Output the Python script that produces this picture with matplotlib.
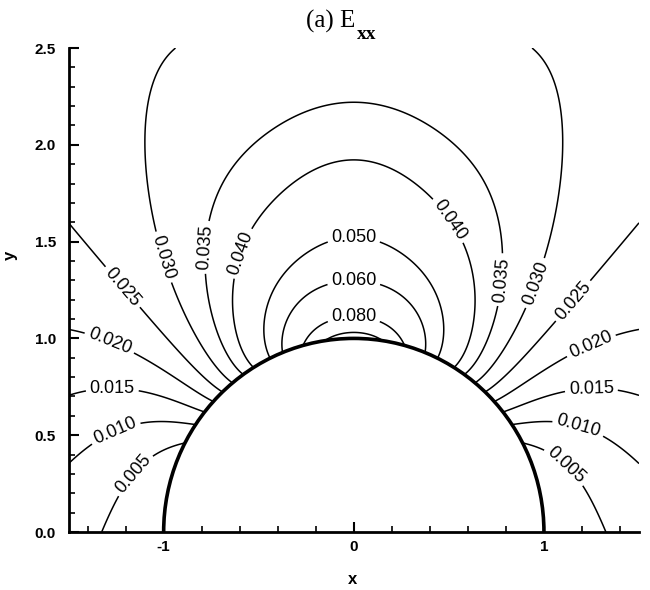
import numpy as np
import matplotlib
matplotlib.use('Agg')
import matplotlib.pyplot as plt
from matplotlib.patches import Arc
from matplotlib.ticker import MultipleLocator

plt.rcParams['font.family'] = ['Liberation Sans', 'DejaVu Sans']
plt.rcParams['axes.unicode_minus'] = False

# contour levels of E_xx
levels = [0.005, 0.010, 0.015, 0.020, 0.025, 0.030, 0.035, 0.040,
          0.050, 0.060, 0.080, 0.100]
unlabeled = [0.100]

# points (right half, field is symmetric in x)
c005 = [(0.900, 0.449), (1.031, 0.406), (1.154, 0.303), (1.276, 0.182), (1.305, 0.0)]
c010 = [(0.839, 0.561), (1.031, 0.570), (1.25, 0.51), (1.505, 0.35)]
c015 = [(0.795, 0.630), (1.014, 0.699), (1.27, 0.73), (1.505, 0.708)]
c020 = [(0.751, 0.682), (1.014, 0.854), (1.28, 0.99), (1.505, 1.04)]
c025 = [(0.708, 0.725), (1.12, 1.198), (1.21, 1.27), (1.505, 1.555)]
c030 = [(0.647, 0.785), (0.926, 1.198), (0.95, 1.28), (1.0, 1.42), (1.048, 1.612),
        (1.066, 1.939), (1.03, 2.26), (0.92, 2.5)]
c035 = [(0.603, 0.820), (0.769, 1.198), (0.79, 1.30), (0.78, 1.46), (0.74, 1.68),
        (0.635, 1.89), (0.42, 2.111), (0.0, 2.231)]
c040 = [(0.533, 0.863), (0.655, 1.198), (0.64, 1.32), (0.594, 1.44), (0.525, 1.60),
        (0.315, 1.784), (0.0, 1.87)]
c050 = [(0.449, 0.900), (0.43, 1.17), (0.33, 1.35), (0.15, 1.48), (0.0, 1.517)]
c060 = [(0.365, 0.935), (0.30, 1.16), (0.21, 1.276), (0.0, 1.327)]
c080 = [(0.276, 0.961), (0.2, 1.07), (0.0, 1.095)]
c100 = [(0.12, 0.995), (0.0, 1.03)]
traced = [c005, c010, c015, c020, c025, c030, c035, c040, c050, c060, c080, c100]

# values judged between the drawn contours
between_pts = [(0.0, 1.0), (0.0, 1.2), (0.0, 1.42), (0.0, 1.7), (0.0, 2.05),
               (0.0, 2.5), (0.85, 2.2), (1.3, 2.5), (1.5, 2.5), (1.5, 2.0),
               (1.5, 0.0), (1.15, 0.0), (1.0, 0.0), (0.985, 0.174), (0.951, 0.309)]
between_val = [0.115, 0.068, 0.055, 0.044, 0.037,
               0.0325, 0.032, 0.0285, 0.0275, 0.027,
               0.0068, 0.003, 0.0, 0.0008, 0.002]

# where the labels sit
labels_left = [(-1.16, 0.30), (-1.25, 0.51), (-1.27, 0.73), (-1.28, 0.99),
               (-1.21, 1.27), (-1.00, 1.42), (-0.77, 1.47), (-0.59, 1.44)]
labels_top = [(0.0, 1.52), (0.0, 1.33), (0.0, 1.095)]
labels_right = [(0.53, 1.63), (0.81, 1.30), (0.97, 1.28), (1.17, 1.18),
                (1.25, 0.96), (1.25, 0.72), (1.18, 0.54), (1.13, 0.36)]

x_range = (-1.5, 1.5)
y_range = (0.0, 2.5)
radius = 1.0

# smooth field: sums of r^-p * sin(theta)^m, least squares through the points
p_list = [0, 2, 4, 7]
m_list = [0, 1, 2, 4, 8, 16, 32]
ridge = 1e-5


def terms(x, y):
    r = np.maximum(np.hypot(x, y), 1e-9)
    s = y / r
    return [r**(-p) * s**m for p in p_list for m in m_list]


px, py, pv = [], [], []
for lv, pts in zip(levels, traced):
    for (a, b) in pts:
        px.append(a); py.append(b); pv.append(lv)
for (a, b), v in zip(between_pts, between_val):
    px.append(a); py.append(b); pv.append(v)
px, py, pv = np.array(px), np.array(py), np.array(pv)

A = np.stack(terms(px, py), axis=1)
n = A.shape[1]
A_aug = np.vstack([A, np.sqrt(ridge) * np.eye(n)])
b_aug = np.concatenate([pv, np.zeros(n)])
coef = np.linalg.lstsq(A_aug, b_aug, rcond=None)[0]

xs = np.linspace(x_range[0], x_range[1], 601)
ys = np.linspace(y_range[0], y_range[1], 501)
X, Y = np.meshgrid(xs, ys)
Z = np.zeros_like(X)
for c, t in zip(coef, terms(X, Y)):
    Z += c * t
Z = np.ma.masked_where(np.hypot(X, Y) < radius, Z)

fig = plt.figure(figsize=(6.5, 5.9), dpi=100)
ax = fig.add_axes([0.1055, 0.0983, 0.8776, 0.8203])

cs = ax.contour(X, Y, Z, levels=levels, colors='black', linewidths=1.1)
ax.add_patch(Arc((0, 0), 2*radius, 2*radius, theta1=0, theta2=180,
                 color='black', lw=2.6, zorder=5))

lab_levels = [lv for lv in levels if lv not in unlabeled]
ax.clabel(cs, levels=lab_levels, fmt='%.3f', fontsize=13, inline=True,
          inline_spacing=4, manual=labels_left + labels_top + labels_right)

ax.set_xlim(*x_range)
ax.set_ylim(*y_range)
ax.spines['top'].set_visible(False)
ax.spines['right'].set_visible(False)
ax.spines['left'].set_linewidth(2)
ax.spines['bottom'].set_linewidth(2)

ax.xaxis.set_major_locator(MultipleLocator(1))
ax.xaxis.set_minor_locator(MultipleLocator(0.2))
ax.yaxis.set_major_locator(MultipleLocator(0.5))
ax.yaxis.set_minor_locator(MultipleLocator(0.1))
ax.yaxis.set_major_formatter('{x:.1f}')
ax.xaxis.set_major_formatter('{x:.0f}')
ax.tick_params(which='major', direction='in', length=7.5, width=1.5,
               labelsize=11)
ax.tick_params(which='minor', direction='in', length=4, width=1.2)
ax.tick_params(axis='x', pad=6)
ax.tick_params(axis='y', pad=9)
for t in ax.get_xticklabels() + ax.get_yticklabels():
    t.set_fontweight('bold')

ax.set_xlabel('x', fontsize=12, fontweight='bold')
ax.set_ylabel('y', fontsize=12, fontweight='bold')
ax.xaxis.set_label_coords(0.4986, -0.0826)
ax.yaxis.set_label_coords(-0.0887, 0.572)

# title: "(a) E" with a large bold "xx" subscript
t1 = fig.text(306 / 650, 1 - 28 / 590, '(a) E', ha='left', va='baseline',
              fontsize=18, family='Liberation Serif')
fig.canvas.draw()
bb = t1.get_window_extent()
fig.text(bb.x1 / fig.bbox.width + 0.002, 1 - 39 / 590, 'xx', ha='left',
         va='baseline', fontsize=14, fontweight='bold', family='Liberation Serif')

fig.savefig('out.png', dpi=100)
